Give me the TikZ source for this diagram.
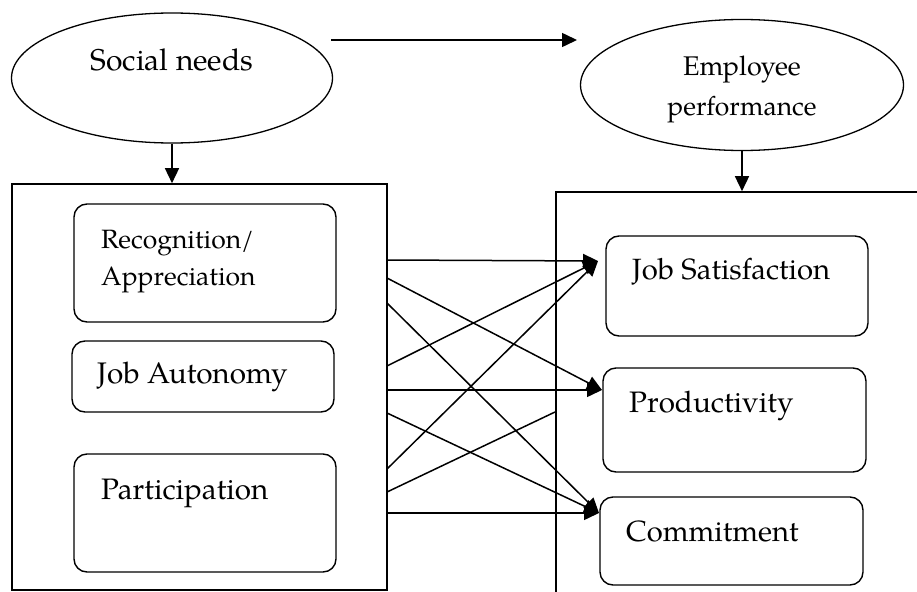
\documentclass[tikz,border=0pt]{standalone}
\usepackage{fontspec}
\setmainfont{TeX Gyre Pagella}
\usetikzlibrary{arrows.meta,shapes.geometric}
\begin{document}
\begin{tikzpicture}[x=1pt,y=-1pt,
  oval/.style={draw,ellipse,line width=1.3pt,inner sep=0pt},
  frame/.style={draw,rectangle,line width=1.6pt,inner sep=0pt},
  rbox/.style={draw,rectangle,rounded corners=13pt,line width=1.4pt,inner sep=0pt},
  txt/.style={anchor=base west,inner sep=0pt},
  ctxt/.style={anchor=base,inner sep=0pt},
  arr/.style={line width=1.5pt,-{Triangle[length=15pt,width=14pt]}},
  plainline/.style={line width=1.5pt}
]
\useasboundingbox (0,0) rectangle (917,591);

% ellipses
\node[oval,minimum width=321pt,minimum height=130pt] (soc) at (172,78) {};
\node[oval,minimum width=323pt,minimum height=131pt] (emp) at (742,85) {};
\node[ctxt,font=\fontsize{30}{36}\selectfont] (socT) at (172,71) {Social needs};
\node[ctxt,font=\fontsize{27}{32}\selectfont] (empT1) at (742,76) {Employee};
\node[ctxt,font=\fontsize{26.5}{32}\selectfont] (empT2) at (742,115) {performance};

% frames
\node[frame,minimum width=375pt,minimum height=406pt] (lframe) at (199.5,387) {};
\node[frame,minimum width=384pt,minimum height=428pt] (rframe) at (748,406) {};

% inner boxes left
\node[rbox,minimum width=262pt,minimum height=118pt] (rec) at (205,263) {};
\node[rbox,minimum width=262pt,minimum height=71pt] (aut) at (203,376.5) {};
\node[rbox,minimum width=262pt,minimum height=118pt] (par) at (205,513) {};
\node[txt,font=\fontsize{26.5}{32}\selectfont] (recT1) at (101,248) {Recognition/};
\node[txt,font=\fontsize{26.5}{32}\selectfont] (recT2) at (101,285) {Appreciation};
\node[txt,font=\fontsize{29.7}{35}\selectfont] (autT) at (97,383) {Job Autonomy};
\node[txt,font=\fontsize{29.6}{35}\selectfont] (parT) at (101,499) {Participation};

% inner boxes right
\node[rbox,minimum width=262pt,minimum height=100pt] (js) at (737,286) {};
\node[rbox,minimum width=263pt,minimum height=104pt] (pro) at (734.5,420) {};
\node[rbox,minimum width=263pt,minimum height=88pt] (com) at (731.5,541) {};
\node[txt,font=\fontsize{29.3}{35}\selectfont] (jsT) at (632,279) {Job Satisfaction};
\node[txt,font=\fontsize{29.6}{35}\selectfont] (proT) at (629,412) {Productivity};
\node[txt,font=\fontsize{29.2}{35}\selectfont] (comT) at (626,541) {Commitment};

% top arrow and down arrows
\coordinate (topA) at (331,40);
\coordinate (topB) at (577,40);
\draw[arr] (topA) -- (topB);
\draw[arr] (soc.south) -- (soc.south |- lframe.north);
\draw[arr] (emp.south) -- (emp.south |- rframe.north);

% connector start and end points
\coordinate (a1) at (387,260);
\coordinate (a2) at (387,278);
\coordinate (a3) at (387,303);
\coordinate (b1) at (387,366);
\coordinate (b2) at (387,390);
\coordinate (b3) at (387,413);
\coordinate (c1) at (387,469);
\coordinate (c2) at (387,492);
\coordinate (c3) at (387,513);
\coordinate (tjs) at (598,261);
\coordinate (tpro) at (602,390);
\coordinate (tcom) at (599,513);
\coordinate (cut) at (555,412);

\draw[arr] (a1) -- (tjs);
\draw[arr] (a2) -- (tpro);
\draw[arr] (a3) -- (tcom);
\draw[arr] (b1) -- (tjs);
\draw[arr] (b2) -- (tpro);
\draw[arr] (b3) -- (tcom);
\draw[arr] (c1) -- (tjs);
\draw[plainline] (c2) -- (cut);
\draw[arr] (c3) -- (tcom);
\end{tikzpicture}
\end{document}
